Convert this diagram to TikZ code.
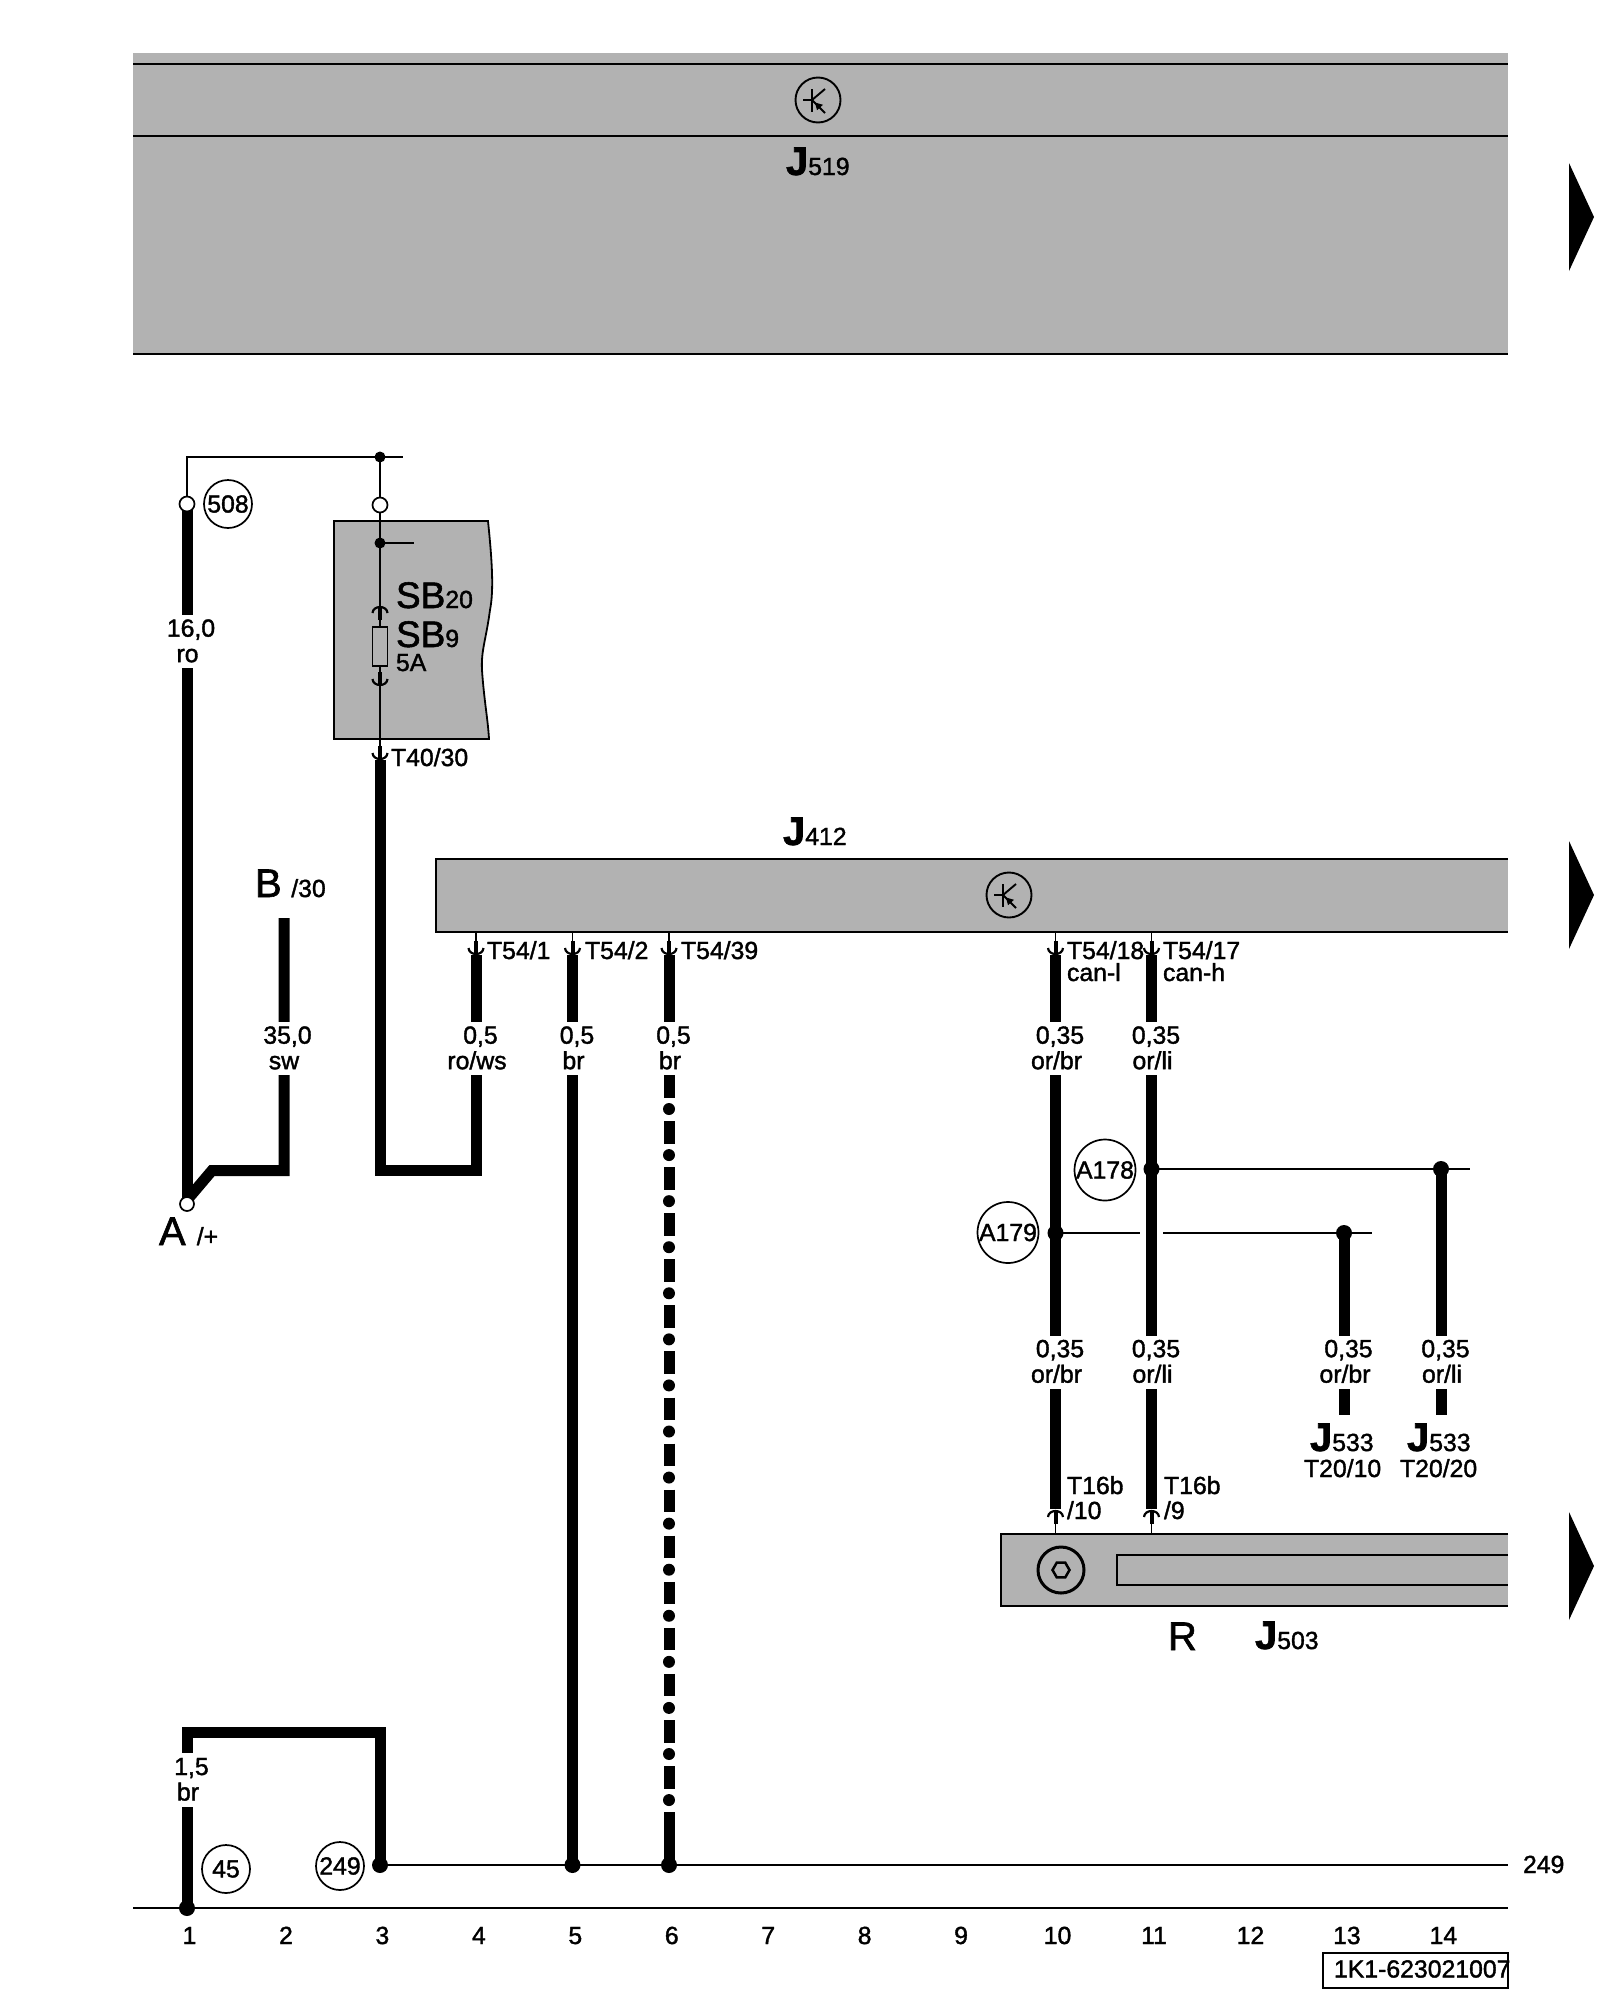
\documentclass[tikz,border=0pt]{standalone}
\usepackage{fontspec}
\setmainfont{Liberation Sans}[FakeBold=1.5]
\usetikzlibrary{shapes.geometric}
\definecolor{boxgray}{HTML}{B2B2B2}
\newcommand{\jname}[1]{{\fontsize{40}{40}\selectfont\bfseries J}#1}
\newcommand{\wlbl}[2]{\hspace*{7pt}#1\\#2}
\tikzset{
  txt/.style={anchor=base west, inner sep=0pt, outer sep=0pt, font=\fontsize{24.8}{25.5}\selectfont},
  bigtxt/.style={txt, font=\fontsize{40}{40}\selectfont},
  wire/.style={line width=11pt, line join=miter},
  thinwire/.style={line width=1.7pt},
  boxline/.style={line width=2pt},
  jdot/.style={circle, fill=black, inner sep=0pt, outer sep=0pt, minimum size=16pt},
  smalldot/.style={jdot, minimum size=11pt},
  opencirc/.style={circle, draw, fill=white, line width=1.7pt, inner sep=0pt, outer sep=0pt, minimum size=15pt},
  badge/.style={circle, draw, line width=1.7pt, inner sep=0pt, outer sep=0pt, minimum size=48pt, font=\fontsize{24.8}{25.5}\selectfont},
  bigbadge/.style={badge, minimum size=61pt},
  gaplbl/.style={fill=white, align=center, inner sep=0pt, outer sep=0pt, minimum height=53pt, text depth=1.5pt, font=\fontsize{24.8}{25.5}\selectfont},
  pinsym/.pic={
    \draw[thinwire] (0,-24) -- (0,-7);
    \draw[line width=4pt] (0,-14) -- (0,-1);
    \draw[line width=2.2pt] (-7.5,-7) .. controls (-7,1) and (7,1) .. (7.5,-7);
  },
  transsym/.pic={
    \draw[line width=1.9pt] (0,0) circle (22.5);
    \draw[line width=1.9pt] (-6,-11) -- (-6,12);
    \draw[line width=1.9pt] (-15,0) -- (-6,0);
    \draw[line width=1.9pt] (-6,0) -- (7,-11);
    \draw[line width=1.9pt] (-6,0) -- (7,13);
    \fill (-3,2.5) -- (5,4.8) -- (-1,10.2) -- cycle;
  }
}

\begin{document}
\begin{tikzpicture}[x=1pt, y=-1pt]
  \useasboundingbox (0,0) rectangle (1600,2000);

  % Box for J519
  \fill[boxgray] (133,53) rectangle (1508,354);
  \foreach \y in {64,136,354}
    \draw[boxline] (133,\y) -- (1508,\y);
  \pic at (818,100) {transsym};
  \node[txt] (j519) at (786,175) {\jname{519}};

  % Box for J412
  \fill[boxgray] (436,859) rectangle (1508,932);
  \draw[boxline] (1508,859) -- (436,859) -- (436,932) -- (1508,932);
  \pic at (1009,895) {transsym};
  \node[txt] (j412) at (783,845) {\jname{412}};

  % Box for R and J503
  \fill[boxgray] (1001,1534) rectangle (1508,1606);
  \draw[boxline] (1508,1534) -- (1001,1534) -- (1001,1606) -- (1508,1606);
  \draw[boxline] (1508,1555) -- (1117,1555) -- (1117,1585) -- (1508,1585);
  \node[circle, draw, line width=3pt, inner sep=0pt, minimum size=46pt] (knob) at (1061,1570) {};
  \node[regular polygon, regular polygon sides=6, draw, line width=2.5pt, inner sep=0pt, minimum size=17pt] (nut) at (knob) {};
  \node[bigtxt] (r) at (1168,1650) {R};
  \node[txt] (j503) at (1255,1649) {\jname{503}};

  % Box for the fuse carrier
  \filldraw[fill=boxgray, line width=1.8pt] (334,521) -- (488,521)
    .. controls (492,560) and (494,590) .. (490,610)
    .. controls (486,640) and (481,650) .. (482,670)
    .. controls (484,700) and (488,720) .. (489,739) -- (334,739) -- cycle;

  % Arrows on the right
  \foreach \y in {217,895,1566}
    \fill (1569,\y-54) -- (1594,\y) -- (1569,\y+54) -- cycle;

  % Named points of the wires
  \coordinate (top1) at (187,457);
  \coordinate (top3) at (380,457);
  \coordinate (topend) at (403,457);
  \coordinate (term1) at (187,504);
  \coordinate (term3) at (380,505);
  \coordinate (sb) at (380,543);
  \coordinate (sbend) at (414,543);
  \coordinate (t40) at (380,760);
  \coordinate (termA) at (187,1204);
  \coordinate (b30) at (284,918);
  \coordinate (bendb) at (284,1170.5);
  \coordinate (bendc) at (212,1170.5);
  \coordinate (bendd) at (187,1200);
  \coordinate (bend3) at (380,1170.5);
  \coordinate (bend4) at (476,1170.5);
  \coordinate (t54a) at (476,955);
  \coordinate (t54b) at (572.5,955);
  \coordinate (t54c) at (669,955);
  \coordinate (t54r) at (1055.5,955);
  \coordinate (t54q) at (1151.5,955);
  \coordinate (t16r) at (1055.5,1509);
  \coordinate (t16q) at (1151.5,1509);
  \coordinate (gnd1) at (187,1908);
  \coordinate (gndl) at (133,1908);
  \coordinate (gndr) at (1508,1908);
  \coordinate (up1) at (187,1732);
  \coordinate (up3) at (380,1732);
  \coordinate (bus3) at (380,1865);
  \coordinate (bus5) at (572.5,1865);
  \coordinate (bus6) at (669,1865);
  \coordinate (busr) at (1508,1865);
  \coordinate (a178) at (1151.5,1169);
  \coordinate (a179) at (1055.5,1233);
  \coordinate (c14) at (1441,1169);
  \coordinate (c13) at (1344,1233);
  \coordinate (a178r) at (1470,1169);
  \coordinate (a179r) at (1372,1233);
  \coordinate (gapl) at (1140,1233);
  \coordinate (gapr) at (1163,1233);
  \coordinate (end13) at (1344,1414.5);
  \coordinate (end14) at (1441,1414.5);

  % Thin wires
  \draw[thinwire] (term1) -- (top1) -- (topend);
  \draw[thinwire] (top3) -- (term3) -- (sb) -- (t40);
  \draw[thinwire] (sb) -- (sbend);
  \draw[thinwire] (bus3) -- (busr);
  \draw[thinwire] (gndl) -- (gndr);
  \draw[thinwire] (a178) -- (a178r);
  \draw[thinwire] (a179) -- (gapl);
  \draw[thinwire] (gapr) -- (a179r);

  % Thick wires
  \draw[wire] (term1) -- (termA);
  \draw[wire] (b30) -- (bendb) -- (bendc) -- (bendd);
  \draw[wire] (t40) -- (bend3) -- (bend4) -- (t54a);
  \draw[wire] (t54b) -- (bus5);
  \draw[wire] (t54c) -- (669,1097.5);
  \draw[wire] (669,1812) -- (bus6);
  \draw[wire] (t54r) -- (t16r);
  \draw[wire] (t54q) -- (t16q);
  \draw[wire] (c13) -- (end13);
  \draw[wire] (c14) -- (end14);
  \draw[wire] (gnd1) -- (up1) -- (up3) -- (bus3);

  % Dash and dot run of column 6
  \foreach \k in {0,...,15} {
    \fill (669,1109+46.07*\k) circle (6);
    \ifnum\k>0
      \draw[wire] (669,1075+46.07*\k) -- (669,1097.5+46.07*\k);
    \fi
  }

  % Connector pins
  \foreach \p in {t40,t54a,t54b,t54c,t54r,t54q}
    \pic at (\p) {pinsym};
  \pic at (380,686) {pinsym};
  \pic[yscale=-1] at (380,606) {pinsym};
  \pic[yscale=-1] at (1055.5,1510) {pinsym};
  \pic[yscale=-1] at (1151.5,1510) {pinsym};
  \node[draw, fill=boxgray, line width=1.3pt, inner sep=0pt, minimum width=15.5pt, minimum height=39pt] (fuse) at (380,646.5) {};

  % Terminals and junctions
  \node[opencirc] (o1) at (term1) {};
  \node[opencirc] (o3) at (term3) {};
  \node[opencirc, minimum size=14pt] (oA) at (termA) {};
  \node[smalldot] (d1) at (top3) {};
  \node[smalldot] (d2) at (sb) {};
  \node[jdot] (d3) at (bus3) {};
  \node[jdot] (d4) at (bus5) {};
  \node[jdot] (d5) at (bus6) {};
  \node[jdot] (d6) at (gnd1) {};
  \node[jdot] (d7) at (a178) {};
  \node[jdot] (d8) at (a179) {};
  \node[jdot] (d9) at (c14) {};
  \node[jdot] (d10) at (c13) {};

  % Wire labels
  \node[gaplbl] (w1) at (187.5,641.5) {\wlbl{16,0}{ro}};
  \node[gaplbl] (w2) at (284,1048.5) {\wlbl{35,0}{sw}};
  \node[gaplbl] (w3) at (477,1048.5) {\wlbl{0,5}{ro/ws}};
  \node[gaplbl] (w4) at (573.5,1048.5) {\wlbl{0,5}{br}};
  \node[gaplbl] (w5) at (670,1048.5) {\wlbl{0,5}{br}};
  \node[gaplbl] (w6) at (1056.5,1048.5) {\wlbl{0,35}{or/br}};
  \node[gaplbl] (w7) at (1152.5,1048.5) {\wlbl{0,35}{or/li}};
  \node[gaplbl] (w8) at (1056.5,1362) {\wlbl{0,35}{or/br}};
  \node[gaplbl] (w9) at (1152.5,1362) {\wlbl{0,35}{or/li}};
  \node[gaplbl] (w10) at (1345,1362) {\wlbl{0,35}{or/br}};
  \node[gaplbl] (w11) at (1442,1362) {\wlbl{0,35}{or/li}};
  \node[gaplbl, minimum height=54pt] (w12) at (188,1780) {\wlbl{1,5}{br}};

  % Badges
  \node[badge] (n508) at (228,504) {508};
  \node[badge] (n45) at (226,1869) {45};
  \node[badge] (n249) at (340,1866) {249};
  \node[bigbadge] (n178) at (1105,1170) {A178};
  \node[bigbadge] (n179) at (1008,1232.5) {A179};

  % Names
  \node[txt] (sb20) at (396,608) {{\fontsize{37}{37}\selectfont SB}20};
  \node[txt] (sb9) at (396,647) {{\fontsize{37}{37}\selectfont SB}9};
  \node[txt] (amp) at (396,671) {5A};
  \node[txt] (t4030) at (391,766) {T40/30};
  \node[txt] (namea) at (159,1245) {{\fontsize{40}{40}\selectfont A }/+};
  \node[txt] (nameb) at (255,897) {{\fontsize{40}{40}\selectfont B }\hspace{-1.5pt}/30};
  \node[txt] (p1) at (487,959) {T54/1};
  \node[txt] (p2) at (585,959) {T54/2};
  \node[txt] (p3) at (681,959) {T54/39};
  \node[txt] (p4) at (1067,959) {T54/18};
  \node[txt] (p4b) at (1067,981) {can-l};
  \node[txt] (p5) at (1163,959) {T54/17};
  \node[txt] (p5b) at (1163,981) {can-h};
  \node[txt] (p6) at (1067,1494) {T16b};
  \node[txt] (p6b) at (1067,1519) {/10};
  \node[txt] (p7) at (1164,1494) {T16b};
  \node[txt] (p7b) at (1164,1519) {/9};
  \node[txt] (j533a) at (1310,1451) {\jname{533}};
  \node[txt] (t2010) at (1304,1477) {T20/10};
  \node[txt] (j533b) at (1407,1451) {\jname{533}};
  \node[txt] (t2020) at (1400,1477) {T20/20};
  \node[txt] (b249) at (1523,1873) {249};

  % Column numbers and sheet number
  \foreach \i in {1,...,14}
    \node[txt, anchor=base] (col\i) at (189.5+96.45*\i-96.45,1944) {\i};
  \draw[boxline] (1323,1952.5) rectangle (1508,1988);
  \node[txt] (sheet) at (1334,1977.5) {1K1-623021007};
\end{tikzpicture}
\end{document}
